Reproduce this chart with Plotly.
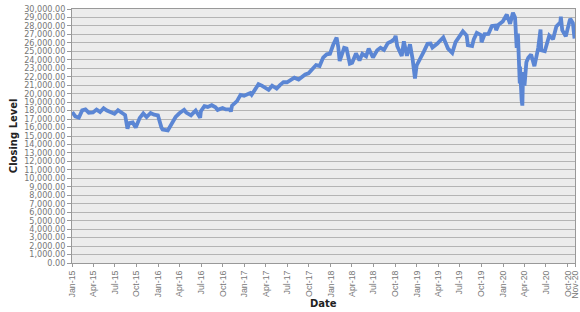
import plotly.graph_objects as go

dates = [
"2015-01-02","2015-01-15","2015-01-30","2015-02-13","2015-02-27","2015-03-13","2015-03-31","2015-04-15","2015-04-30",
"2015-05-15","2015-05-29","2015-06-15","2015-06-30","2015-07-15","2015-07-31","2015-08-14","2015-08-24","2015-08-31",
"2015-09-15","2015-09-28","2015-10-15","2015-10-30","2015-11-13","2015-11-30","2015-12-15","2015-12-31",
"2016-01-15","2016-01-20","2016-02-11","2016-02-29","2016-03-15","2016-03-31","2016-04-20","2016-04-29","2016-05-19",
"2016-05-31","2016-06-08","2016-06-27","2016-06-30","2016-07-15","2016-07-29","2016-08-15","2016-08-31","2016-09-09",
"2016-09-30","2016-10-14","2016-10-31","2016-11-04","2016-11-09","2016-11-30","2016-12-15","2016-12-30",
"2017-01-25","2017-01-31","2017-02-15","2017-03-01","2017-03-15","2017-03-31","2017-04-13","2017-04-28","2017-05-17",
"2017-05-31","2017-06-15","2017-06-30","2017-07-14","2017-07-31","2017-08-18","2017-08-31","2017-09-15","2017-09-29",
"2017-10-13","2017-10-31","2017-11-15","2017-11-30","2017-12-15","2017-12-29",
"2018-01-12","2018-01-26","2018-02-02","2018-02-08","2018-02-27","2018-03-09","2018-03-23","2018-04-02","2018-04-18",
"2018-05-03","2018-05-15","2018-05-31","2018-06-11","2018-06-29","2018-07-17","2018-07-31","2018-08-15","2018-08-31",
"2018-09-14","2018-09-28","2018-10-03","2018-10-10","2018-10-29","2018-11-07","2018-11-20","2018-12-03","2018-12-14",
"2018-12-24","2018-12-31",
"2019-01-15","2019-01-31","2019-02-15","2019-02-28","2019-03-08","2019-03-29","2019-04-23","2019-05-13","2019-05-31",
"2019-06-14","2019-07-15","2019-07-31","2019-08-05","2019-08-23","2019-08-30","2019-09-12","2019-09-30","2019-10-02",
"2019-10-15","2019-10-31","2019-11-15","2019-11-29","2019-12-03","2019-12-13","2019-12-31",
"2020-01-17","2020-01-31","2020-02-12","2020-02-21","2020-02-28","2020-03-04","2020-03-09","2020-03-12","2020-03-13",
"2020-03-16","2020-03-20","2020-03-23","2020-03-26","2020-04-01","2020-04-09","2020-04-17","2020-04-29","2020-05-13",
"2020-05-29","2020-06-08","2020-06-11","2020-06-26","2020-07-15","2020-07-31","2020-08-14","2020-08-31","2020-09-02",
"2020-09-08","2020-09-23","2020-10-09","2020-10-12","2020-10-23","2020-10-28","2020-10-30",
]
closing = [
17833,17320,17165,18019,18133,17750,17776,18113,17841,
18272,18011,17791,17620,18050,17690,17477,15871,16528,
16600,16001,17141,17663,17245,17720,17524,17425,
15988,15766,15660,16516,17251,17685,18096,17773,17435,
17787,18005,17140,17930,18516,18432,18636,18400,18085,
18308,18138,18142,17888,18589,19124,19852,19763,
20069,19864,20612,21115,20950,20663,20453,20941,20607,
21009,21360,21350,21638,21891,21675,21948,22268,22405,
22871,23377,23272,24272,24651,24719,
25803,26617,25521,23860,25410,25336,23533,23644,24748,
23930,24706,24416,25322,24271,25120,25415,25162,25965,
26155,26458,26828,25599,24443,26180,24465,25826,24100,
21792,23327,
24065,24999,25883,25916,25450,25928,26656,25324,24815,
26089,27359,26864,25718,25629,26403,27182,26917,26079,
27024,27046,28005,28051,27503,28135,28538,
29348,28256,29551,28992,25409,27091,23851,21200,23186,
20189,19174,18592,22552,20943,23719,24242,24634,23248,
25383,27572,25128,25016,26870,26428,27931,28430,29100,
27500,26763,28587,28837,28336,26520,26502,
]

tick_vals = ["2015-01-01","2015-04-01","2015-07-01","2015-10-01","2016-01-01","2016-04-01","2016-07-01","2016-10-01",
             "2017-01-01","2017-04-01","2017-07-01","2017-10-01","2018-01-01","2018-04-01","2018-07-01","2018-10-01",
             "2019-01-01","2019-04-01","2019-07-01","2019-10-01","2020-01-01","2020-04-01","2020-07-01","2020-10-01","2020-11-01"]
tick_text = ["Jan-15","Apr-15","Jul-15","Oct-15","Jan-16","Apr-16","Jul-16","Oct-16",
             "Jan-17","Apr-17","Jul-17","Oct-17","Jan-18","Apr-18","Jul-18","Oct-18",
             "Jan-19","Apr-19","Jul-19","Oct-19","Jan-20","Apr-20","Jul-20","Oct-20","Nov-20"]
y_ticks = list(range(0, 30001, 1000))
y_text = [f"{v:,.2f}" for v in y_ticks]

fig = go.Figure()
fig.add_trace(go.Scatter(x=dates, y=closing, mode="lines",
                         line=dict(color="#5b86d4", width=3.8), showlegend=False))

fig.update_layout(
    width=580, height=312,
    margin=dict(l=72, r=5, t=4, b=49),
    paper_bgcolor="white", plot_bgcolor="#ececec",
    font=dict(family="DejaVu Sans", size=8.1, color="#777777"),
    xaxis=dict(range=["2015-01-01", "2020-11-01"], tickvals=tick_vals, ticktext=tick_text,
               tickangle=-90, showgrid=False, ticks="outside", ticklen=3, tickcolor="#999999",
               showline=True, linecolor="#999999", mirror=True, automargin=False,
               ticklabeloverflow="allow",
               tickfont=dict(family="Liberation Sans", size=8.8)),
    yaxis=dict(range=[0, 30000], tickvals=y_ticks, ticktext=y_text,
               showgrid=True, gridcolor="#b4b4b4", gridwidth=1,
               ticks="outside", ticklen=4, tickcolor="#999999",
               showline=True, linecolor="#999999", mirror=True,
               ticklabeloverflow="allow"),
    annotations=[
        dict(text="<b>Date</b>", xref="paper", yref="paper", x=0.5, y=-0.158,
             xanchor="center", yanchor="middle", showarrow=False,
             font=dict(size=10, color="#222222")),
        dict(text="<b>Closing Level</b>", xref="paper", yref="paper", x=-0.117, y=0.5,
             xanchor="center", yanchor="middle", showarrow=False, textangle=-90,
             font=dict(size=10, color="#222222")),
    ],
)

fig.write_html("out.html")
